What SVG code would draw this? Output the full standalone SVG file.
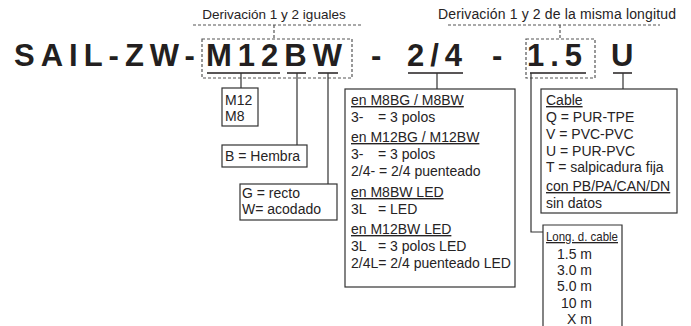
<svg xmlns="http://www.w3.org/2000/svg" width="691" height="326" viewBox="0 0 691 326">
<style>
.t{font-family:"Liberation Sans",Arial,sans-serif;font-size:14px;fill:#262324}
.u{text-decoration:underline}
.m{text-anchor:middle}
.big{font-family:"Liberation Sans",Arial,sans-serif;font-size:31px;font-weight:bold;fill:#231f20;letter-spacing:6px}
.box{fill:#fff;stroke:#333;stroke-width:1.2}
.ln{stroke:#333;stroke-width:1.2;fill:none}
.ul{stroke:#231f20;stroke-width:1.5}
.dash{stroke:#555;stroke-width:1.2;stroke-dasharray:3 2;fill:none}
</style>
<defs>
<clipPath id="cc"><rect x="541" y="89" width="136" height="125"/></clipPath>
</defs>
<g id="title">
<text class="big" x="14" y="66">SAIL-ZW-</text>
<text class="big" x="206" y="66">M12BW</text>
<text class="big" x="371" y="66">-</text>
<text class="big" x="407" y="66">2/4</text>
<text class="big" x="492" y="66">-</text>
<text class="big" x="527" y="66">1.5</text>
<text class="big" x="611" y="66">U</text>
</g>
<g id="labels">
<text class="t m" x="274" y="19" style="font-size:13.5px">Derivación 1 y 2 iguales</text>
<text class="t m" x="557" y="19" textLength="238" lengthAdjust="spacing">Derivación 1 y 2 de la misma longitud</text>
</g>
<g id="connectors">
<path class="dash" d="M193,25H362M274,25V39"/>
<rect class="dash" x="202" y="39" width="150" height="39"/>
<path class="dash" d="M448,25H660M560,25V39"/>
<rect class="dash" x="526" y="39" width="69" height="39"/>
<path class="ul" d="M207,73H280M287,73H306M318,73H338M408,73H463M530,73H586M613,73H632"/>
<path class="ln" d="M241,73V88M297,73V145M328,73V184M437,73V89M531,73V232H543M623,73V89"/>
</g>
<g id="n-m12">
<rect class="box" x="222" y="88" width="36" height="38"/>
<text class="t" x="225" y="105">M12</text>
<text class="t" x="225" y="121">M8</text>
</g>
<g id="n-b">
<rect class="box" x="222" y="145" width="85" height="22"/>
<text class="t" x="225" y="161">B = Hembra</text>
</g>
<g id="n-gw">
<rect class="box" x="240" y="184" width="97" height="36"/>
<text class="t" x="242" y="198">G = recto</text>
<text class="t" x="242" y="214">W= acodado</text>
</g>
<g id="n-pol">
<rect class="box" x="345" y="89" width="170" height="198"/>
<text class="t u" x="351" y="105">en M8BG / M8BW</text>
<text class="t" x="351" y="122">3-</text><text class="t" x="378" y="122">= 3 polos</text>
<text class="t u" x="351" y="142">en M12BG / M12BW</text>
<text class="t" x="351" y="159">3-</text><text class="t" x="378" y="159">= 3 polos</text>
<text class="t" x="351" y="176">2/4- = 2/4 puenteado</text>
<text class="t u" x="351" y="197">en M8BW LED</text>
<text class="t" x="351" y="214">3L</text><text class="t" x="378" y="214">= LED</text>
<text class="t u" x="351" y="234">en M12BW LED</text>
<text class="t" x="351" y="251">3L</text><text class="t" x="378" y="251">= 3 polos LED</text>
<text class="t" x="351" y="268">2/4L= 2/4 puenteado LED</text>
</g>
<g id="n-cable">
<rect class="box" x="541" y="89" width="136" height="124"/>
<g clip-path="url(#cc)">
<text class="t u" x="546" y="105">Cable</text>
<text class="t" x="546" y="122">Q = PUR-TPE</text>
<text class="t" x="546" y="139">V = PVC-PVC</text>
<text class="t" x="546" y="156">U = PUR-PVC</text>
<text class="t" x="546" y="172">T  = salpicadura fija</text>
<text class="t u" x="546" y="191">con PB/PA/CAN/DN</text>
<text class="t" x="546" y="208">sin datos</text>
</g>
</g>
<g id="n-long">
<path class="box" d="M543,326V225H622V326"/>
<text class="t u" x="546" y="241" textLength="72" lengthAdjust="spacingAndGlyphs" style="font-size:13px">Long. d. cable</text>
<text class="t" x="592" y="259" text-anchor="end">1.5 m</text>
<text class="t" x="592" y="275" text-anchor="end">3.0 m</text>
<text class="t" x="592" y="291" text-anchor="end">5.0 m</text>
<text class="t" x="592" y="308" text-anchor="end">10 m</text>
<text class="t" x="592" y="324" text-anchor="end">X m</text>
</g>
</svg>
